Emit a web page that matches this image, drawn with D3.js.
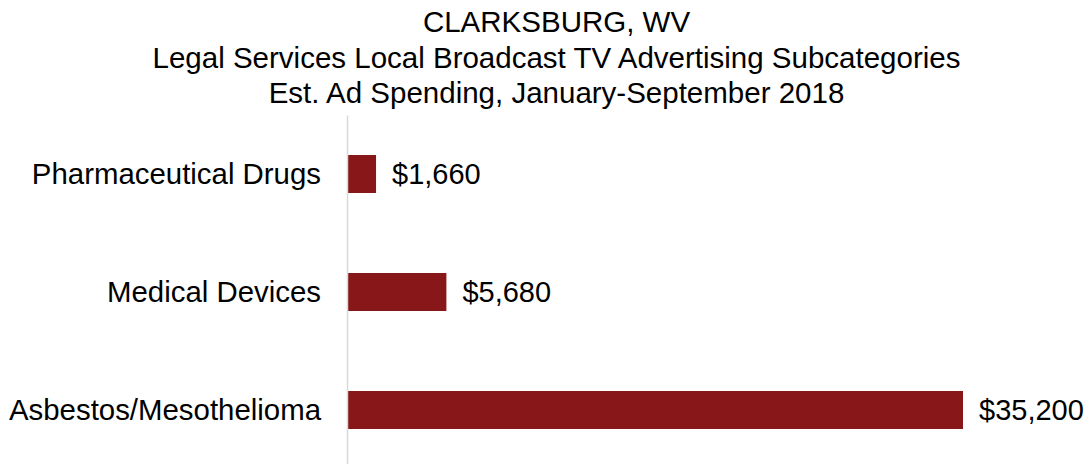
<!DOCTYPE html>
<html>
<head>
<meta charset="utf-8">
<script src="https://cdn.jsdelivr.net/npm/d3@7"></script>
<style>
  body { margin: 0; background: #fff; }
  text { font-family: "Liberation Sans", Arial, sans-serif; fill: #000; }
</style>
</head>
<body>
<div id="chart"></div>
<script>
// data
var categories = ["Pharmaceutical Drugs", "Medical Devices", "Asbestos/Mesothelioma"];
var spending = [1660, 5680, 35200];
var valueLabels = ["$1,660", "$5,680", "$35,200"];
var titleLines = [
    "CLARKSBURG, WV",
    "Legal Services Local Broadcast TV Advertising Subcategories",
    "Est. Ad Spending, January-September 2018"
];

var W = 1090, H = 464;
var barColor = "#881719";

var svg = d3.select("#chart").append("svg")
    .attr("width", W)
    .attr("height", H);

// title, three centred lines
svg.append("g").selectAll("text")
    .data(titleLines)
    .enter().append("text")
    .attr("x", 556.5)
    .attr("y", function (d, i) { return 32 + i * 35.5; })
    .attr("text-anchor", "middle")
    .style("font-size", "29.5px")
    .text(function (d) { return d; });

var x = d3.scaleLinear()
    .domain([0, 35200])
    .range([347, 963]);

var y = d3.scaleBand()
    .domain(categories)
    .range([115, 469])
    .paddingInner(0.678)
    .paddingOuter(0.339);

var rows = categories.map(function (c, i) {
    return {name: c, value: spending[i], label: valueLabels[i]};
});

// bars
svg.selectAll(".bar")
    .data(rows)
    .enter().append("rect")
    .attr("class", "bar")
    .attr("x", x(0))
    .attr("y", function (d) { return y(d.name); })
    .attr("width", function (d) { return x(d.value) - x(0); })
    .attr("height", y.bandwidth())
    .attr("fill", barColor);

// vertical axis line, no ticks
var axis = svg.append("g")
    .attr("transform", "translate(" + x(0) + ",0)")
    .call(d3.axisLeft(y).tickSize(0).tickPadding(26));
axis.select(".domain")
    .attr("stroke", "#d9d9d9")
    .attr("stroke-width", 1.5);
axis.selectAll(".tick text")
    .style("font-size", "29.4px")
    .attr("dy", "0.35em")
    .attr("font-family", null)
    .attr("fill", "#000");
axis.attr("font-size", null).attr("font-family", null);

// value labels
svg.selectAll(".val")
    .data(rows)
    .enter().append("text")
    .attr("class", "val")
    .attr("x", function (d) { return x(d.value) + 16; })
    .attr("y", function (d) { return y(d.name) + y.bandwidth() / 2; })
    .attr("dy", "0.35em")
    .style("font-size", "29px")
    .text(function (d) { return d.label; });
</script>
</body>
</html>
